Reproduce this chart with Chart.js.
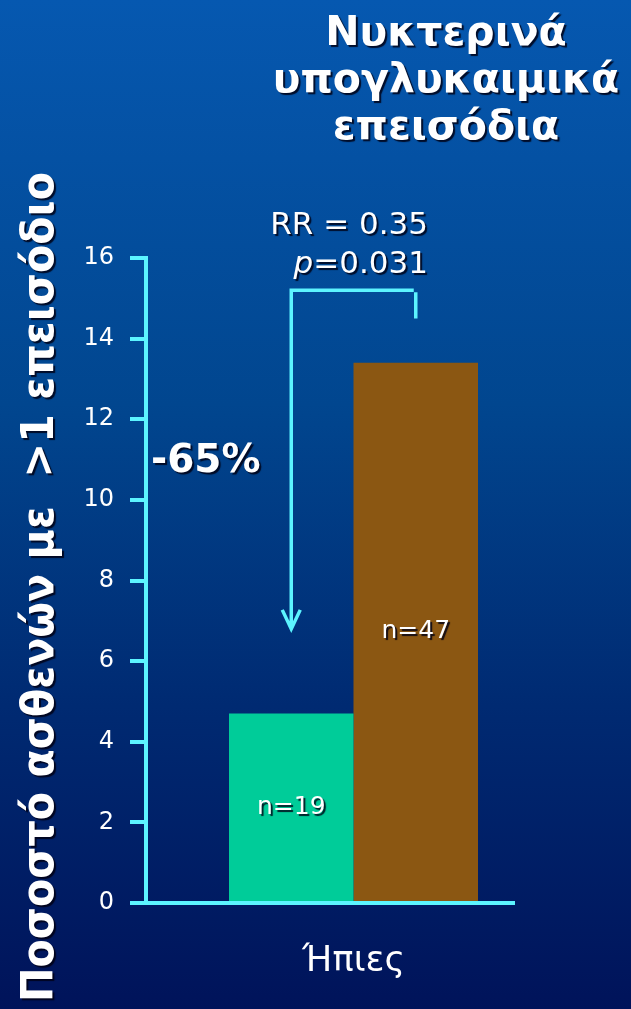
<!DOCTYPE html>
<html>
<head>
<meta charset="utf-8">
<script src="https://cdn.jsdelivr.net/npm/chart.js@4"></script>
<style>
    html, body { margin: 0; padding: 0; }
    #wrap {
        width: 631px;
        height: 1009px;
        background: linear-gradient(to bottom, #0658b0 0%, #01468f 40%, #002a72 70%, #00135a 100%);
    }
</style>
</head>
<body>
<div id="wrap"><canvas id="hypoChart" width="631" height="1009"></canvas></div>
<script>
// Chart data
const categories = ['Ήπιες'];
const groupNames = ['Ομάδα 1', 'Ομάδα 2'];
const groupValues = [[4.7], [13.4]];
const groupSizes = ['n=19', 'n=47'];
const groupColors = ['#00cc99', '#8b5712'];
const yMin = 0;
const yMax = 16;
const yStep = 2;

const titleLines = ['Νυκτερινά', 'υπογλυκαιμικά', 'επεισόδια'];
const yTitle = 'Ποσοστό ασθενών με  >1 επεισόδιο';
const rrText = 'RR = 0.35';
const pValue = '=0.031';
const reductionText = '-65%';

const CYAN = '#5cf4ff';
const FONT = '"DejaVu Sans", Verdana, sans-serif';

// Drop shadow used by all the slide text
const withShadow = (ctx, fn) => {
    ctx.save();
    ctx.shadowColor = 'rgba(0, 0, 20, 0.85)';
    ctx.shadowOffsetX = 2;
    ctx.shadowOffsetY = 2;
    ctx.shadowBlur = 1;
    fn();
    ctx.restore();
};

// Titles, bar labels and the comparison bracket
const overlayPlugin = {
    id: 'overlay',
    afterDraw(chart) {
        const ctx = chart.ctx;
        const area = chart.chartArea;
        const y = chart.scales.y;
        const bars = groupValues.map((v, i) => chart.getDatasetMeta(i).data[0]);

        // x axis line
        ctx.save();
        ctx.strokeStyle = CYAN;
        ctx.lineWidth = 4;
        ctx.beginPath();
        ctx.moveTo(area.left - 16, y.getPixelForValue(0));
        ctx.lineTo(area.right - 46, y.getPixelForValue(0));
        ctx.stroke();
        ctx.restore();

        withShadow(ctx, () => {
            ctx.fillStyle = '#ffffff';
            ctx.textAlign = 'center';
            ctx.textBaseline = 'alphabetic';

            // main title
            ctx.font = 'bold 41px ' + FONT;
            titleLines.forEach((line, i) => ctx.fillText(line, 446, 45 + i * 47));

            // rotated y title
            ctx.save();
            ctx.translate(53, 587);
            ctx.rotate(-Math.PI / 2);
            ctx.font = 'bold 44px ' + FONT;
            ctx.fillText(yTitle, 0, 0, 830);
            ctx.restore();

            // group sizes inside the bars
            ctx.font = '25px ' + FONT;
            ctx.textBaseline = 'middle';
            bars.forEach((bar, i) => {
                ctx.fillText(groupSizes[i], bar.x, (bar.y + bar.base) / 2);
            });

            // reduction label
            ctx.font = 'bold 39px ' + FONT;
            ctx.textAlign = 'left';
            ctx.textBaseline = 'alphabetic';
            ctx.fillText(reductionText, 151, 472);

            // relative risk and p value
            ctx.font = '31px ' + FONT;
            ctx.textAlign = 'right';
            ctx.fillText(rrText, 428, 234);
            const pw = ctx.measureText(pValue).width;
            ctx.fillText(pValue, 428, 273);
            ctx.font = 'italic 31px ' + FONT;
            ctx.fillText('p', 428 - pw, 273);
        });

        // bracket between the two bars with arrow down to the lower one
        const x1 = bars[0].x;
        const x2 = bars[1].x;
        const top = y.getPixelForValue(15.2);
        const tip = y.getPixelForValue(6.8);
        ctx.save();
        ctx.strokeStyle = CYAN;
        ctx.lineWidth = 3.5;
        ctx.lineCap = 'butt';
        ctx.beginPath();
        ctx.moveTo(x1, tip);
        ctx.lineTo(x1, top);
        ctx.lineTo(x2 - 2, top);
        ctx.moveTo(x2, top + 2);
        ctx.lineTo(x2, y.getPixelForValue(14.5));
        ctx.moveTo(x1 - 9, tip - 19);
        ctx.lineTo(x1, tip);
        ctx.lineTo(x1 + 9, tip - 19);
        ctx.stroke();
        ctx.restore();
    }
};

const ctx = document.querySelector('#hypoChart').getContext('2d');

new Chart(ctx, {
    type: 'bar',
    data: {
        labels: categories,
        datasets: groupValues.map((vals, i) => ({
            label: groupNames[i],
            data: vals,
            backgroundColor: groupColors[i],
            borderWidth: 0,
            barPercentage: 1,
            categoryPercentage: 0.6
        }))
    },
    options: {
        responsive: false,
        animation: false,
        layout: { padding: { top: 258, right: 70, left: 0, bottom: 0 } },
        scales: {
            x: {
                grid: { display: false },
                border: { display: false },
                ticks: {
                    color: '#ffffff',
                    padding: 30,
                    font: { size: 35, family: FONT }
                },
                afterFit: (scale) => { scale.height = 106; }
            },
            y: {
                min: yMin,
                max: yMax,
                grid: {
                    drawOnChartArea: false,
                    tickLength: 16,
                    tickColor: CYAN,
                    lineWidth: 4
                },
                border: { color: CYAN, width: 4 },
                ticks: {
                    stepSize: yStep,
                    color: '#ffffff',
                    padding: 16,
                    font: { size: 24, family: FONT }
                },
                afterFit: (scale) => { scale.width = 146; }
            }
        },
        plugins: {
            legend: { display: false },
            tooltip: { enabled: false }
        }
    },
    plugins: [overlayPlugin]
});
</script>
</body>
</html>
